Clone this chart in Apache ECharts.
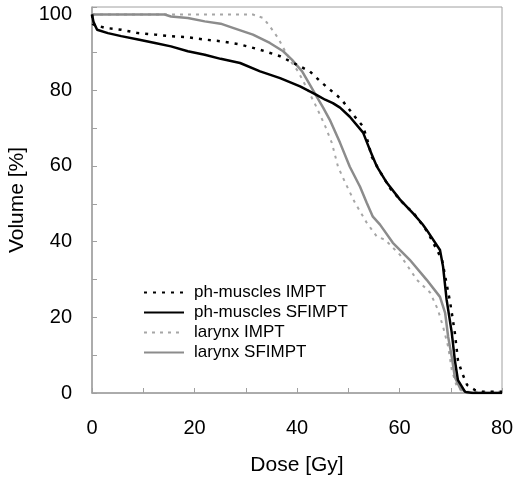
<!DOCTYPE html>
<html>
<head>
<meta charset="utf-8">
<script src="https://cdn.jsdelivr.net/npm/echarts@6/dist/echarts.min.js"></script>
<style>
html,body{margin:0;padding:0;background:#fff;}
#chart{width:514px;height:479px;}
</style>
</head>
<body>
<div id="chart"></div>
<script>
// ph-muscles IMPT (black dotted)
const phImptDose = [0, 0.2, 2.5, 5.7, 9, 12.3, 15.4, 18.7, 22, 25.4, 28.9, 32.8, 36.7, 39.9, 42.5, 44.5, 46.4, 48, 49, 51.3, 52.9, 53.9, 54.6, 56.2, 58.1, 60.4, 63, 65.5, 68.3, 69.9, 70.8, 71.4, 72.2, 73.2, 74.7, 76.3, 80];
const phImptVol  = [100, 97.4, 96.5, 96, 95.1, 94.7, 94.3, 94.0, 93.4, 92.9, 92.1, 90.7, 89.0, 86.8, 85.0, 82.4, 80.2, 78.4, 77, 73, 70.4, 66.1, 62.4, 58.5, 54.2, 50.6, 47.1, 42.5, 35.2, 23.8, 15.9, 8.7, 5.3, 2.1, 0.8, 0.3, 0.3];
// ph-muscles SFIMPT (black solid)
const phSfDose = [0, 0.3, 1, 3.1, 5.7, 9, 12.3, 15.4, 18.7, 22, 25.1, 28.9, 32.8, 36.7, 40.6, 43.8, 45.5, 47.0, 48.4, 50.3, 52.9, 54.2, 55.6, 57.5, 60.1, 62.7, 64.5, 65.3, 67.9, 68.5, 69.2, 70.2, 70.8, 71.4, 72.8, 74.3, 80];
const phSfVol  = [100, 98, 96, 95.1, 94.3, 93.4, 92.5, 91.6, 90.3, 89.4, 88.3, 87.2, 85.0, 83.2, 81.0, 78.8, 77.5, 76.6, 75.4, 73.0, 68.8, 64.3, 59.8, 55.6, 51.1, 47.4, 44.6, 43.1, 37.8, 33.4, 24.6, 15.9, 8.7, 3.4, 0.3, 0, 0];
// larynx IMPT (grey dotted)
const lxImptDose = [0, 31.4, 33.4, 34.7, 36.3, 37.7, 39, 40.2, 41.9, 43.5, 44.5, 45.5, 46.8, 48, 49.4, 51.3, 53.6, 55.6, 57.2, 60.1, 63.4, 66, 67.5, 68.5, 69.5, 70.2, 71.2, 72.4, 80];
const lxImptVol  = [100, 100, 99.1, 96.9, 93.8, 90.3, 87.2, 85, 80.6, 76.4, 73.5, 70.5, 66.1, 59.8, 55.6, 50.3, 45, 41.3, 40.5, 36.5, 29.9, 26.5, 22, 17.5, 12.2, 6.1, 1.6, 0.3, 0.3];
// larynx SFIMPT (grey solid)
const lxSfDose = [0, 14.2, 15.4, 18.7, 22, 25.1, 27.5, 31.4, 34.7, 37.3, 39, 41, 42.5, 43.9, 45.1, 46.4, 48.4, 50.3, 52.3, 53.6, 54.8, 56.2, 58.7, 62, 65.3, 67.9, 68.9, 69.5, 70.2, 70.8, 71.8, 73.2, 80];
const lxSfVol  = [100, 100, 99.5, 99.1, 98.2, 97.6, 96.5, 94.7, 92.5, 90.3, 88.1, 85.0, 81.5, 78.2, 75.4, 72.2, 66.1, 59.8, 54.5, 50.3, 46.6, 44.5, 39.7, 35.2, 29.9, 25.4, 21.2, 14.8, 9.5, 4.2, 1.3, 0, 0];

const seriesNames = ['ph-muscles IMPT', 'ph-muscles SFIMPT', 'larynx IMPT', 'larynx SFIMPT'];
const xTickLabels = [0, 20, 40, 60, 80];
const yTickLabels = [0, 20, 40, 60, 80, 100];

function pairs(xs, ys) { return xs.map((x, i) => [x, ys[i]]); }

const FONT = "'Liberation Sans', Arial, sans-serif";
const chart = echarts.init(document.getElementById('chart'), null, {renderer: 'canvas'});
chart.setOption({
  animation: false,
  backgroundColor: '#fff',
  textStyle: {fontFamily: FONT},
  grid: {left: 92, right: 12, top: 7, bottom: 86, show: true, borderColor: '#a0a0a0', borderWidth: 1,
         outerBoundsMode: 'none', containLabel: false},
  legend: {
    orient: 'vertical', left: 143, top: 283, padding: 0,
    itemWidth: 40, itemHeight: 14, itemGap: 1,
    data: seriesNames,
    itemStyle: {opacity: 0},
    textStyle: {fontFamily: FONT, fontSize: 17, color: '#000', padding: [0, 0, 0, 5], lineHeight: 19}
  },
  xAxis: {
    type: 'value', min: 0, max: 80, interval: 10,
    name: 'Dose [Gy]', nameLocation: 'middle', nameGap: 62,
    nameTextStyle: {fontFamily: FONT, fontSize: 21, color: '#000'},
    axisLine: {lineStyle: {color: '#a0a0a0', width: 1.5}},
    axisTick: {inside: true, length: 5, lineStyle: {color: '#a0a0a0'}},
    splitLine: {show: false},
    axisLabel: {fontFamily: FONT, fontSize: 20, color: '#000', margin: 25,
      formatter: v => xTickLabels.indexOf(v) >= 0 ? String(v) : ''}
  },
  yAxis: {
    type: 'value', min: 0, max: 102, interval: 10,
    name: 'Volume [%]', nameLocation: 'middle', nameGap: 62, nameRotate: 90,
    nameTextStyle: {fontFamily: FONT, fontSize: 21, color: '#000'},
    axisLine: {show: true, lineStyle: {color: '#a0a0a0', width: 1.5}},
    axisTick: {show: true, inside: true, length: 5, lineStyle: {color: '#a0a0a0'}},
    splitLine: {show: false},
    axisLabel: {fontFamily: FONT, fontSize: 20, color: '#000', margin: 20,
      formatter: v => yTickLabels.indexOf(v) >= 0 ? String(v) : ''}
  },
  series: [
    {name: seriesNames[2], type: 'line', symbol: 'none', data: pairs(lxImptDose, lxImptVol), z: 2,
     lineStyle: {color: '#a6a6a6', width: 2, type: [3, 5]}, itemStyle: {color: '#a6a6a6'}},
    {name: seriesNames[3], type: 'line', symbol: 'none', data: pairs(lxSfDose, lxSfVol), z: 3,
     lineStyle: {color: '#8c8c8c', width: 2.5}, itemStyle: {color: '#8c8c8c'}},
    {name: seriesNames[0], type: 'line', symbol: 'none', data: pairs(phImptDose, phImptVol), z: 4,
     lineStyle: {color: '#000', width: 2.5, type: [3, 6]}, itemStyle: {color: '#000'}},
    {name: seriesNames[1], type: 'line', symbol: 'none', data: pairs(phSfDose, phSfVol), z: 5,
     lineStyle: {color: '#000', width: 2.5}, itemStyle: {color: '#000'}}
  ]
});
</script>
</body>
</html>
